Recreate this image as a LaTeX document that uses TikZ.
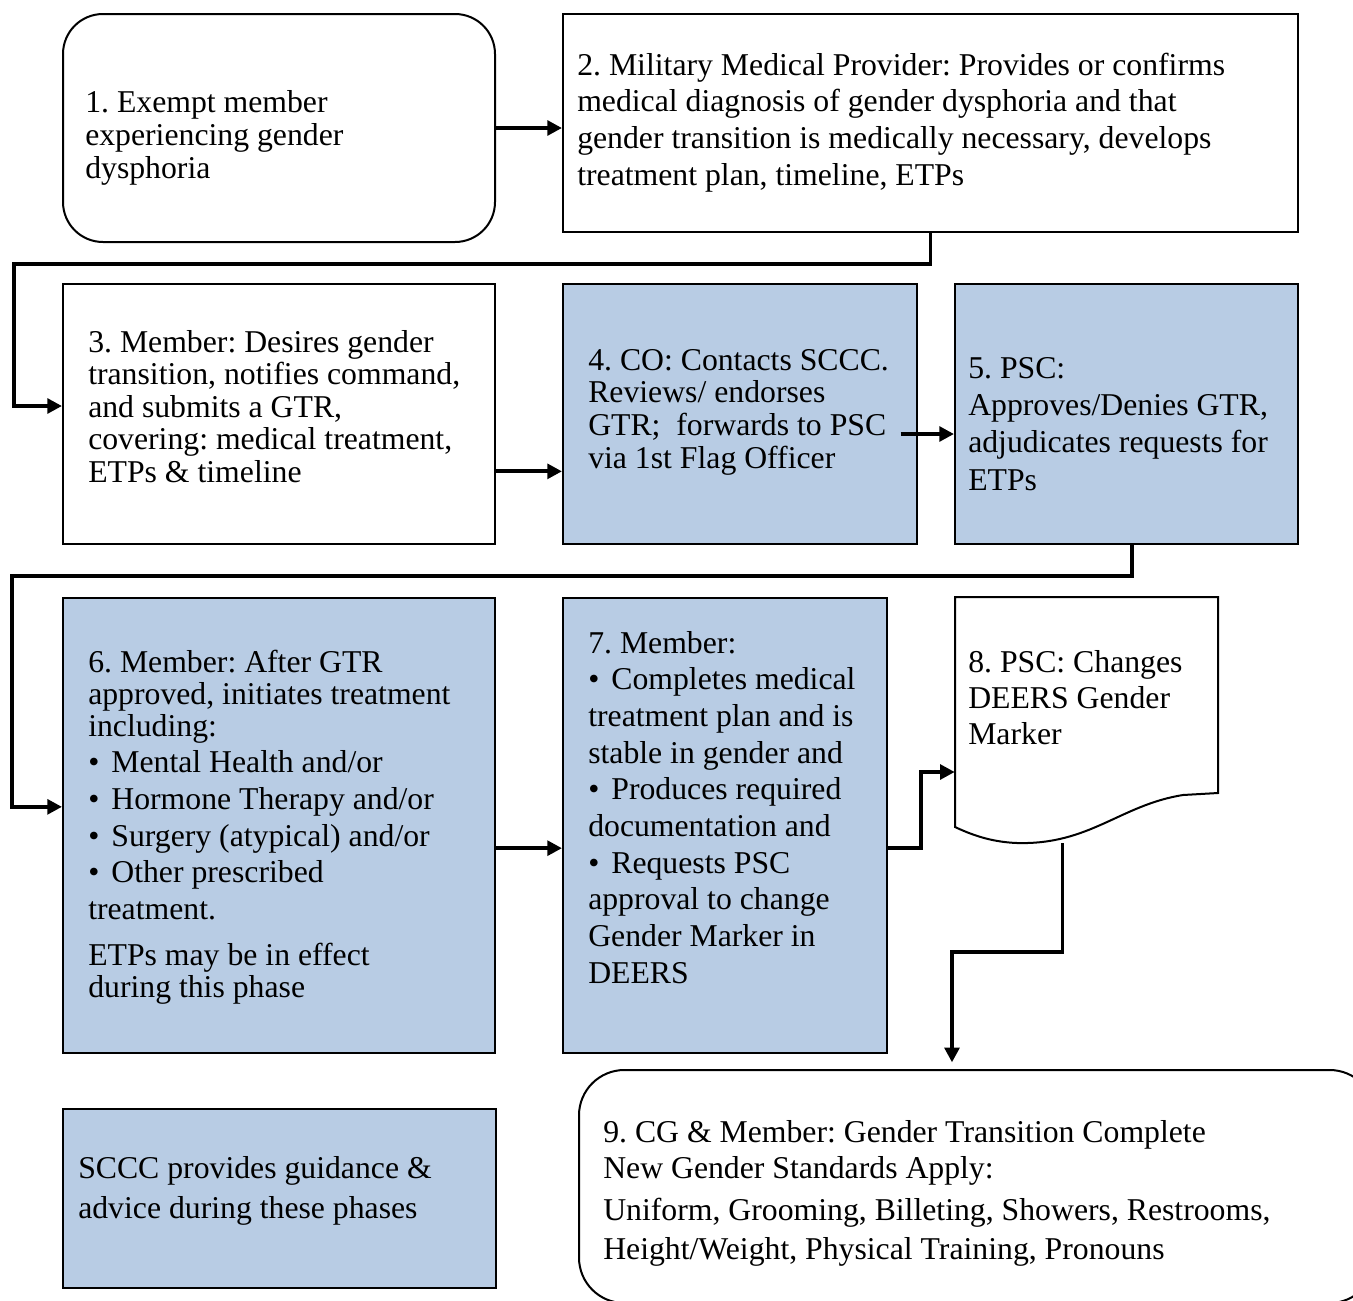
\documentclass[tikz,border=0pt]{standalone}
\usepackage{fontspec}
\setmainfont{Liberation Serif}
\usetikzlibrary{arrows.meta,fit}
\definecolor{boxblue}{HTML}{B8CCE4}
\newcommand{\bul}{•\hspace{9pt}}
\newcommand{\fl}{\rule{0pt}{20pt}}
\frenchspacing
\begin{document}
\begin{tikzpicture}[x=0.75pt,y=-0.75pt,
  box/.style={draw, line width=1.5pt, inner sep=0pt},
  bluebox/.style={box, fill=boxblue},
  txt/.style={anchor=north west, inner sep=0pt, align=left, yshift=20pt},
  conn/.style={line width=2.8pt, -{Triangle[length=11pt,width=11pt]}},
]
\useasboundingbox (0,0) rectangle (1353,1300);
\fill[white] (0,0) rectangle (1353,1300);
\clip (0,0) rectangle (1353,1300);

% boxes
\node[box, fit={(63,14) (495,242)}, rounded corners=30pt] (b1) {};
\node[box, fit={(563,14) (1298,232)}] (b2) {};
\node[box, fit={(63,284) (495,544)}] (b3) {};
\node[bluebox, fit={(563,284) (917,544)}] (b4) {};
\node[bluebox, fit={(955,284) (1298,544)}] (b5) {};
\node[bluebox, fit={(63,598) (495,1053)}] (b6) {};
\node[bluebox, fit={(563,598) (887,1053)}] (b7) {};
\node[inner sep=0pt, fit={(955,597) (1218,843)}] (b8) {};
\draw[line width=1.5pt, fill=white] (955,597) -- (1218,597) -- (1218,793) -- (1183,795)
  .. controls (1120,805) and (1090,845) .. (1017,843)
  .. controls (990,842) and (970,834) .. (955,827) -- cycle;
\node[box, fit={(579,1070) (1375,1303)}, rounded corners=34pt] (b9) {};
\node[bluebox, fit={(63,1109) (496,1288)}] (bs) {};

% texts
\node[txt, font=\fontsize{23.8}{24.75}\selectfont] (t1) at (85,112)
  {\fl 1. Exempt member\\experiencing gender\\dysphoria};
\node[txt, font=\fontsize{23.8}{27.5}\selectfont] (t2) at (577,75)
  {\fl 2. Military Medical Provider: Provides or confirms\\medical diagnosis of gender dysphoria and that\\gender transition is medically necessary, develops\\treatment plan, timeline, ETPs};
\node[txt, font=\fontsize{23.8}{24.4}\selectfont] (t3) at (88,352)
  {\fl 3. Member: Desires gender\\transition, notifies command,\\and submits a GTR,\\covering: medical treatment,\\ETPs \& timeline};
\node[txt, font=\fontsize{23.8}{24.5}\selectfont] (t4) at (588,370)
  {\fl 4. CO: Contacts SCCC.\\Reviews/ endorses\\GTR;\ \ forwards to PSC\\via 1st Flag Officer};
\node[txt, font=\fontsize{23.8}{28}\selectfont] (t5) at (968,378)
  {\fl 5. PSC:\\Approves/Denies GTR,\\adjudicates requests for\\ETPs};
\node[txt, font=\fontsize{23.8}{24}\selectfont] (t6) at (88,672)
  {\fl 6. Member: After GTR\\approved, initiates treatment\\including:\\[3.5pt]\bul Mental Health and/or\\[3.5pt]\bul Hormone Therapy and/or\\[3.5pt]\bul Surgery (atypical) and/or\\[3.5pt]\bul Other prescribed\\[3.5pt]treatment.\\[10.5pt]ETPs may be in effect\\during this phase};
\node[txt, font=\fontsize{23.8}{27.5}\selectfont] (t7) at (588,653)
  {\fl 7. Member:\\\bul Completes medical\\treatment plan and is\\stable in gender and\\\bul Produces required\\documentation and\\\bul Requests PSC\\approval to change\\Gender Marker in\\DEERS};
\node[txt, font=\fontsize{23.8}{27}\selectfont] (t8) at (968,672)
  {\fl 8. PSC: Changes\\DEERS Gender\\Marker};
\node[txt, font=\fontsize{23.8}{27}\selectfont] (t9) at (603,1142)
  {\fl 9. CG \& Member: Gender Transition Complete\\New Gender Standards Apply:\\[5pt]Uniform, Grooming, Billeting, Showers, Restrooms,\\[2pt]Height/Weight, Physical Training, Pronouns};
\node[txt, font=\fontsize{23.8}{30}\selectfont] (ts) at (78,1178)
  {\fl SCCC provides guidance \&\\advice during these phases};

% connectors
\coordinate (k23) at (14,264);
\coordinate (k56) at (12,576);
\coordinate (k78) at (921,772);
\coordinate (k89) at (952,952);
\draw[conn] (b1.east) -- (b1.east -| b2.west);
\draw[conn] (b2.south) |- (k23) |- ([yshift=6pt]b3.west);
\draw[conn] ([yshift=-43pt]b3.east) -- ([yshift=-43pt]b3.east -| b4.west);
\draw[conn] ([xshift=-13pt,yshift=-15pt]b4.east) -- ([yshift=-15pt]b5.west);
\draw[conn] ([xshift=4pt]b5.south) |- (k56) |- ([yshift=14pt]b6.west);
\draw[conn] ([yshift=-17pt]b6.east) -- ([yshift=-17pt]b6.east -| b7.west);
\draw[conn] ([yshift=-17pt]b7.east) -| (k78) -- (k78 -| b8.west);
\draw[conn, shorten >=5pt] ([xshift=-18pt]b8.south) |- (k89) -- (k89 |- b9.north);
\end{tikzpicture}
\end{document}
